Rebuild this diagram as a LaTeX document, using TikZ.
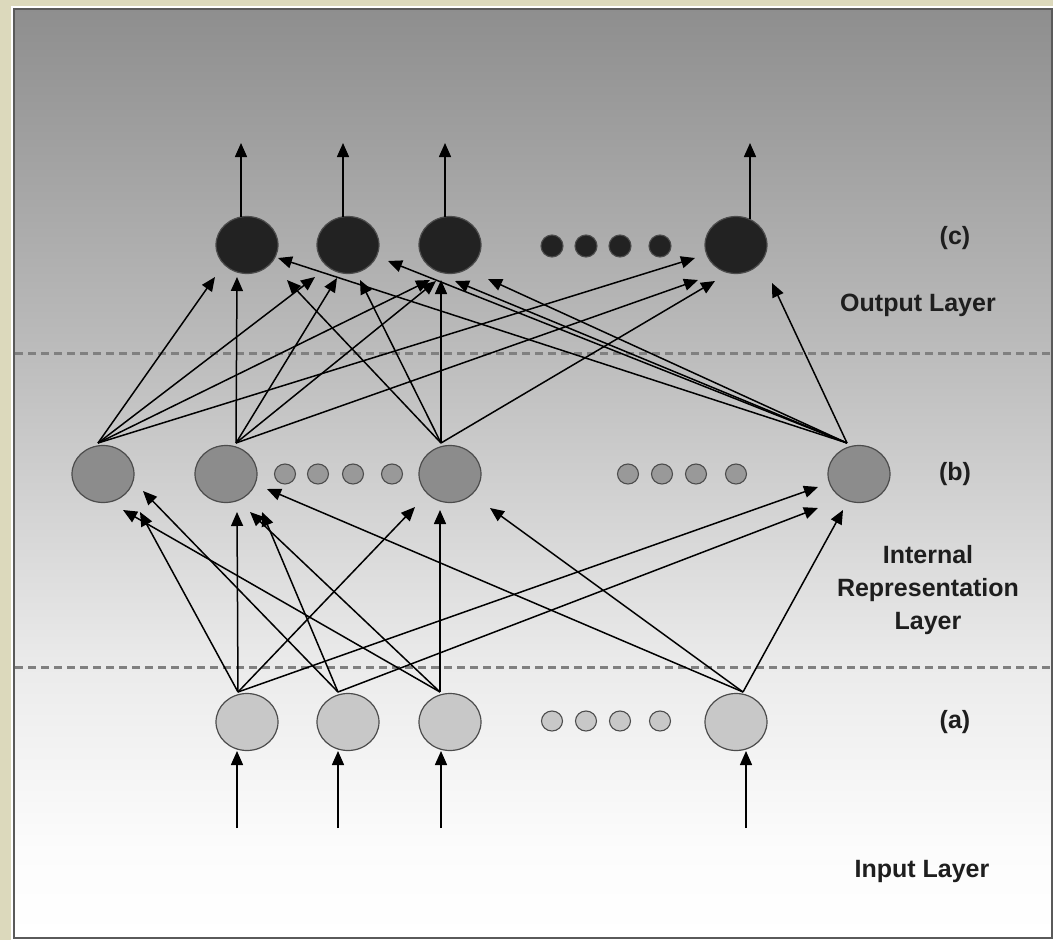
\documentclass[tikz,border=0pt]{standalone}
\usepackage{fontspec}
\setmainfont{Liberation Sans}
\usetikzlibrary{arrows.meta,calc,shapes.geometric}
\definecolor{beige}{HTML}{DCD9BC}
\definecolor{gA}{HTML}{8E8E8E}
\definecolor{gB}{HTML}{BCBCBC}
\definecolor{gC}{HTML}{EBEBEB}
\definecolor{gD}{HTML}{FCFCFC}
\definecolor{outc}{HTML}{222222}
\definecolor{hidc}{HTML}{8C8C8C}
\definecolor{hdotc}{HTML}{999999}
\definecolor{inc}{HTML}{C8C8C8}
\definecolor{sepc}{HTML}{808080}
\definecolor{labc}{HTML}{1E1E1E}
\definecolor{framec}{HTML}{5A5A5A}
\begin{document}
\begin{tikzpicture}[x=1pt,y=-1pt,
  arr/.style={draw=black, line width=1.5pt, -{Triangle[length=14pt,width=12pt]}},
  big/.style={ellipse, draw=black!70, line width=1.2pt, minimum width=62pt, minimum height=57pt, inner sep=0pt},
  outn/.style={big, fill=outc},
  hidn/.style={big, fill=hidc},
  inn/.style={big, fill=inc},
  dot/.style={ellipse, draw=black!70, line width=1.1pt, minimum width=21pt, minimum height=20pt, inner sep=0pt},
  lab/.style={font=\bfseries\fontsize{25}{33}\selectfont, text=labc, align=center, inner sep=0pt},
  sep/.style={draw=sepc, line width=3pt, dash pattern=on 8pt off 5pt}]
\useasboundingbox (0,0) rectangle (1053,940);
% background and frame
\fill[beige] (0,0) rectangle (1053,940);
\fill[white] (11,6) rectangle (1053,940);
\shade[top color=gA, bottom color=gB] (13,8) rectangle (1052,352.5);
\shade[top color=gB, bottom color=gC] (13,352) rectangle (1052,666.5);
\shade[top color=gC, bottom color=gD] (13,666) rectangle (1052,850.5);
\shade[top color=gD, bottom color=white] (13,850) rectangle (1052,938);
\draw[framec, line width=1.6pt] (13.8,8.8) rectangle (1052,938);
% separators
\draw[sep] (15,353) -- (1051,353);
\draw[sep] (15,667) -- (1051,667);
% output layer
\node[outn] (O1) at (247,245) {};
\node[outn] (O2) at (348,245) {};
\node[outn] (O3) at (450,245) {};
\node[outn] (O4) at (736,245) {};
\node[dot, fill=outc, minimum width=22pt, minimum height=22pt] (od1) at (552,246) {};
\node[dot, fill=outc, minimum width=22pt, minimum height=22pt] (od2) at (586,246) {};
\node[dot, fill=outc, minimum width=22pt, minimum height=22pt] (od3) at (620,246) {};
\node[dot, fill=outc, minimum width=22pt, minimum height=22pt] (od4) at (660,246) {};
% hidden layer
\node[hidn] (H1) at (103,474) {};
\node[hidn] (H2) at (226,474) {};
\node[hidn] (H3) at (450,474) {};
\node[hidn] (H4) at (859,474) {};
\node[dot, fill=hdotc] (hd1) at (285,474) {};
\node[dot, fill=hdotc] (hd2) at (318,474) {};
\node[dot, fill=hdotc] (hd3) at (353,474) {};
\node[dot, fill=hdotc] (hd4) at (392,474) {};
\node[dot, fill=hdotc] (hd5) at (628,474) {};
\node[dot, fill=hdotc] (hd6) at (662,474) {};
\node[dot, fill=hdotc] (hd7) at (696,474) {};
\node[dot, fill=hdotc] (hd8) at (736,474) {};
% input layer
\node[inn] (I1) at (247,722) {};
\node[inn] (I2) at (348,722) {};
\node[inn] (I3) at (450,722) {};
\node[inn] (I4) at (736,722) {};
\node[dot, fill=inc] (id1) at (552,721) {};
\node[dot, fill=inc] (id2) at (586,721) {};
\node[dot, fill=inc] (id3) at (620,721) {};
\node[dot, fill=inc] (id4) at (660,721) {};
% free ends of the input and output arrows
\coordinate (in1) at (237,828);
\coordinate (in2) at (338,828);
\coordinate (in3) at (441,828);
\coordinate (in4) at (746,828);
\coordinate (out1) at (241,143);
\coordinate (out2) at (343,143);
\coordinate (out3) at (445,143);
\coordinate (out4) at (750,143);
% output arrows
\draw[arr] ($(O1.center)+(-6,-28)$) -- (out1);
\draw[arr] ($(O2.center)+(-5,-28)$) -- (out2);
\draw[arr] ($(O3.center)+(-5,-28)$) -- (out3);
\draw[arr] ($(O4.center)+(14,-26)$) -- (out4);
% input arrows
\draw[arr] (in1) -- ($(I1.center)+(-10,29)$);
\draw[arr] (in2) -- ($(I2.center)+(-10,29)$);
\draw[arr] (in3) -- ($(I3.center)+(-9,29)$);
\draw[arr] (in4) -- ($(I4.center)+(10,29)$);
% hidden -> output
\draw[arr] ($(H1.center)+(-5,-31)$) -- ($(O1.center)+(-32,32)$);
\draw[arr] ($(H1.center)+(-5,-31)$) -- ($(O2.center)+(-33,32)$);
\draw[arr] ($(H1.center)+(-5,-31)$) -- ($(O3.center)+(-20,35)$);
\draw[arr] ($(H1.center)+(-5,-31)$) -- ($(O4.center)+(-41,13)$);
\draw[arr] ($(H2.center)+(10,-31)$) -- ($(O1.center)+(-10,32)$);
\draw[arr] ($(H2.center)+(10,-31)$) -- ($(O2.center)+(-11,33)$);
\draw[arr] ($(H2.center)+(10,-31)$) -- ($(O3.center)+(-14,36)$);
\draw[arr] ($(H2.center)+(10,-31)$) -- ($(O4.center)+(-38,35)$);
\draw[arr] ($(H3.center)+(-9,-31)$) -- ($(O1.center)+(40,35)$);
\draw[arr] ($(H3.center)+(-9,-31)$) -- ($(O2.center)+(12,35)$);
\draw[arr] ($(H3.center)+(-9,-31)$) -- ($(O3.center)+(-9,35)$);
\draw[arr] ($(H3.center)+(-9,-31)$) -- ($(O4.center)+(-21,36)$);
\draw[arr] ($(H4.center)+(-12,-31)$) -- ($(O1.center)+(31,13)$);
\draw[arr] ($(H4.center)+(-12,-31)$) -- ($(O2.center)+(40,16)$);
\draw[arr] ($(H4.center)+(-12,-31)$) -- ($(O3.center)+(5,36)$);
\draw[arr] ($(H4.center)+(-12,-31)$) -- ($(O3.center)+(38,34)$);
\draw[arr] ($(H4.center)+(-12,-31)$) -- ($(O4.center)+(36,38)$);
% input -> hidden
\draw[arr] ($(I1.center)+(-9,-30)$) -- ($(H1.center)+(37,38)$);
\draw[arr] ($(I1.center)+(-9,-30)$) -- ($(H2.center)+(11,38)$);
\draw[arr] ($(I1.center)+(-9,-30)$) -- ($(H3.center)+(-35,33)$);
\draw[arr] ($(I1.center)+(-9,-30)$) -- ($(H4.center)+(-41,13)$);
\draw[arr] ($(I2.center)+(-10,-30)$) -- ($(H1.center)+(40,17)$);
\draw[arr] ($(I2.center)+(-10,-30)$) -- ($(H2.center)+(36,38)$);
\draw[arr] ($(I2.center)+(-10,-30)$) -- ($(H4.center)+(-41,34)$);
\draw[arr] ($(I3.center)+(-10,-30)$) -- ($(H1.center)+(20,36)$);
\draw[arr] ($(I3.center)+(-10,-30)$) -- ($(H2.center)+(24,38)$);
\draw[arr] ($(I3.center)+(-10,-30)$) -- ($(H3.center)+(-10,36)$);
\draw[arr] ($(I4.center)+(7,-30)$) -- ($(H2.center)+(41,15)$);
\draw[arr] ($(I4.center)+(7,-30)$) -- ($(H3.center)+(40,34)$);
\draw[arr] ($(I4.center)+(7,-30)$) -- ($(H4.center)+(-16,36)$);
% labels
\node[lab] (lc) at (955,238) {(c)};
\node[lab] (lout) at (918,305) {Output Layer};
\node[lab] (lb) at (955,474) {(b)};
\node[lab] (lint) at (928,590) {Internal\\Representation\\Layer};
\node[lab] (la) at (955,722) {(a)};
\node[lab] (lin) at (922,871) {Input Layer};
\end{tikzpicture}
\end{document}
